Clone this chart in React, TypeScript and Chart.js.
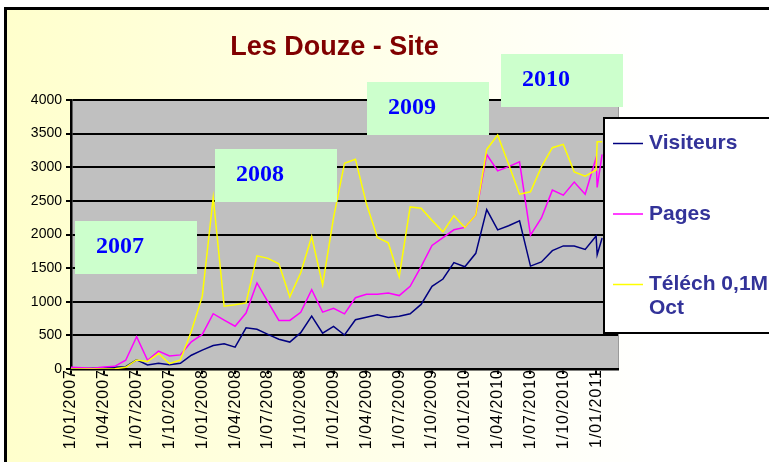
import React, { useEffect, useRef } from 'react';
import { Chart, registerables, LinearScale } from 'chart.js';

class SpacedLinearScale extends LinearScale {
  static id = 'spacedLinear';
  static defaults = LinearScale.defaults;
  drawLabels(chartArea: any) {
    const ctx: any = this.ctx;
    const prev = ctx.letterSpacing;
    ctx.letterSpacing = '1px';
    super.drawLabels(chartArea);
    ctx.letterSpacing = prev || '0px';
  }
}

Chart.register(...registerables, SpacedLinearScale);

// ---------- DATA ----------
const chartTitle = 'Les Douze - Site';
const seriesNames = ['Visiteurs', 'Pages', 'Téléch 0,1M Oct'];

const dates = [
  '2007-01-01', '2007-02-01', '2007-03-01', '2007-04-01', '2007-05-01', '2007-06-01',
  '2007-07-01', '2007-08-01', '2007-09-01', '2007-10-01', '2007-11-01', '2007-12-01',
  '2008-01-01', '2008-02-01', '2008-03-01', '2008-04-01', '2008-05-01', '2008-06-01',
  '2008-07-01', '2008-08-01', '2008-09-01', '2008-10-01', '2008-11-01', '2008-12-01',
  '2009-01-01', '2009-02-01', '2009-03-01', '2009-04-01', '2009-05-01', '2009-06-01',
  '2009-07-01', '2009-08-01', '2009-09-01', '2009-10-01', '2009-11-01', '2009-12-01',
  '2010-01-01', '2010-02-01', '2010-03-01', '2010-04-01', '2010-05-01', '2010-06-01',
  '2010-07-01', '2010-08-01', '2010-09-01', '2010-10-01', '2010-11-01', '2010-12-01',
  '2011-01-01', '2011-01-04', '2011-01-18',
];

const visiteurs = [
  0, 5, 10, 15, 25, 35, 135, 60, 85, 65, 85, 205,
  280, 350, 375, 325, 612, 590, 515, 443, 400, 540, 786, 533,
  635, 505, 732, 771, 806, 766, 784, 821, 960, 1229, 1338, 1582,
  1520, 1720, 2370, 2068, 2130, 2202, 1530, 1592, 1760, 1830, 1830, 1778,
  1977, 1700, 1947,
];

const pages = [
  25, 20, 10, 30, 40, 130, 480, 130, 265, 195, 210, 405,
  515, 822, 728, 636, 832, 1280, 997, 723, 723, 843, 1180, 845,
  903, 820, 1060, 1110, 1110, 1130, 1092, 1230, 1522, 1838, 1955, 2070,
  2105, 2290, 3190, 2945, 3010, 3080, 1990, 2245, 2660, 2585, 2780, 2600,
  3140, 2700, 3190,
];

const telech = [
  0, 0, 0, 0, 5, 25, 135, 112, 230, 80, 134, 560,
  1080, 2550, 935, 955, 982, 1683, 1645, 1565, 1072, 1432, 1970, 1251,
  2250, 3060, 3120, 2460, 1955, 1875, 1370, 2410, 2390, 2210, 2040, 2280,
  2105, 2290, 3265, 3480, 3043, 2600, 2635, 3005, 3290, 3340, 2930, 2867,
  2960, 3380, 3380,
];

const tickMonths = [0, 3, 6, 9, 12, 15, 18, 21, 24, 27, 30, 33, 36, 39, 42, 45, 48];
const tickLabels = [
  '1/01/2007', '1/04/2007', '1/07/2007', '1/10/2007',
  '1/01/2008', '1/04/2008', '1/07/2008', '1/10/2008',
  '1/01/2009', '1/04/2009', '1/07/2009', '1/10/2009',
  '1/01/2010', '1/04/2010', '1/07/2010', '1/10/2010',
  '1/01/2011',
];
const axisMinMonth = 0;
const axisMaxMonth = 50;

const yearLabels = ['2007', '2008', '2009', '2010'];

// ---------- LAYOUT / STYLE ----------
const W = 769;
const H = 462;
const SANS = "'Liberation Sans', Arial, sans-serif";
const SERIF = "'Liberation Serif', 'Times New Roman', serif";
const seriesColors = ['#000080', '#FF00FF', '#FFFF00'];
const yearBoxes = [
  { x: 75, y: 221 },
  { x: 215, y: 149 },
  { x: 367, y: 82 },
  { x: 501, y: 54 },
];

function monthIndex(d: string): number {
  const [y, m, day] = d.split('-').map(Number);
  return (y - 2007) * 12 + (m - 1) + (day - 1) / 31;
}

const decorPlugin = {
  id: 'decor',
  beforeDraw(chart: any) {
    const ctx = chart.ctx;
    const a = chart.chartArea;
    ctx.save();
    ctx.fillStyle = '#FFFFFF';
    ctx.fillRect(0, 0, W, H);
    const g = ctx.createLinearGradient(7, 0, W, 0);
    g.addColorStop(0, '#FFFFCC');
    g.addColorStop(0.85, '#FFFFFF');
    g.addColorStop(1, '#FFFFFF');
    ctx.fillStyle = g;
    ctx.fillRect(7, 10, W - 7, H - 10);
    ctx.fillStyle = '#000000';
    ctx.fillRect(4, 7, W - 4, 3);
    ctx.fillRect(4, 7, 3, H - 7);
    ctx.fillStyle = '#C0C0C0';
    ctx.fillRect(a.left, a.top, a.right - a.left, a.bottom - a.top);
    ctx.strokeStyle = '#9A9A9A';
    ctx.lineWidth = 1;
    ctx.beginPath();
    ctx.moveTo(a.right + 0.5, a.top);
    ctx.lineTo(a.right + 0.5, a.bottom);
    ctx.stroke();
    ctx.restore();
  },
  afterDraw(chart: any) {
    const ctx = chart.ctx;
    ctx.save();
    // title
    ctx.font = `bold 27px ${SANS}`;
    ctx.fillStyle = '#800000';
    ctx.textAlign = 'center';
    ctx.textBaseline = 'alphabetic';
    ctx.fillText(chartTitle, 334.5, 55);

    // year boxes
    yearLabels.forEach((t, i) => {
      const b = yearBoxes[i];
      ctx.fillStyle = '#CCFFCC';
      ctx.fillRect(b.x, b.y, 122, 53);
      ctx.font = `bold 24px ${SERIF}`;
      ctx.fillStyle = '#0000FF';
      ctx.textAlign = 'left';
      ctx.fillText(t, b.x + 21, b.y + 32);
    });

    // legend
    const lx = 604, ly = 118, lw = 180, lh = 215;
    ctx.fillStyle = '#FFFFFF';
    ctx.fillRect(lx, ly, lw, lh);
    ctx.strokeStyle = '#000000';
    ctx.lineWidth = 2;
    ctx.strokeRect(lx, ly, lw, lh);
    ctx.font = `bold 21px ${SANS}`;
    ctx.textBaseline = 'middle';
    const rowY = [143.5, 214, 284.5];
    chart.data.datasets.forEach((ds: any, i: number) => {
      const y = rowY[i];
      ctx.strokeStyle = ds.borderColor;
      ctx.lineWidth = 1.5;
      ctx.beginPath();
      ctx.moveTo(613, y);
      ctx.lineTo(643, y);
      ctx.stroke();
      ctx.fillStyle = '#333399';
      const words = String(ds.label).split(' ');
      const lines: string[] = [];
      let cur = '';
      words.forEach((w) => {
        const test = cur ? cur + ' ' + w : w;
        if (cur && ctx.measureText(test).width > 125) {
          lines.push(cur);
          cur = w;
        } else cur = test;
      });
      if (cur) lines.push(cur);
      lines.forEach((ln, k) => ctx.fillText(ln, 649, y + k * 24));
    });
    ctx.restore();
  },
};

export default function App() {
  const ref = useRef<HTMLCanvasElement | null>(null);
  useEffect(() => {
    if (!ref.current) return;
    const xs = dates.map(monthIndex);
    const mk = (vals: number[]) => vals.map((v, i) => ({ x: xs[i], y: v }));
    const chart = new Chart(ref.current, {
      type: 'line',
      data: {
        datasets: [
          { label: seriesNames[0], data: mk(visiteurs), borderColor: seriesColors[0], order: 2 },
          { label: seriesNames[1], data: mk(pages), borderColor: seriesColors[1], order: 1 },
          { label: seriesNames[2], data: mk(telech), borderColor: seriesColors[2], order: 0 },
        ] as any,
      },
      options: {
        responsive: false,
        animation: false,
        devicePixelRatio: 1,
        layout: { padding: { top: 100, right: 151, left: 0, bottom: 0 } },
        elements: {
          line: { tension: 0, borderWidth: 1.5, fill: false },
          point: { radius: 0, hoverRadius: 0 },
        },
        plugins: {
          legend: { display: false },
          title: { display: false },
          tooltip: { enabled: false },
        },
        scales: {
          x: {
            type: 'spacedLinear' as any,
            min: axisMinMonth,
            max: axisMaxMonth,
            afterFit: (s: any) => { s.height = 93; },
            afterBuildTicks: (s: any) => { s.ticks = tickMonths.map((v) => ({ value: v })); },
            ticks: {
              autoSkip: false,
              minRotation: 90,
              maxRotation: 90,
              padding: -5,
              color: '#000000',
              font: { family: SANS, size: 16 },
              callback: (v: any) => tickLabels[tickMonths.indexOf(Number(v))] ?? '',
            },
            grid: { drawOnChartArea: false, drawTicks: true, tickLength: 5, color: '#000000', lineWidth: 2 },
            border: { color: '#000000', width: 2.5 },
          } as any,
          y: {
            min: 0,
            max: 4000,
            afterFit: (s: any) => { s.width = 71; },
            ticks: {
              stepSize: 500,
              padding: 4,
              color: '#000000',
              font: { family: SANS, size: 14 },
              callback: (v: any) => String(v),
            },
            grid: { color: '#000000', lineWidth: 2, tickLength: 5 },
            border: { color: '#000000', width: 2.5 },
          },
        },
      },
      plugins: [decorPlugin],
    });
    return () => chart.destroy();
  }, []);
  return (
    <div style={{ position: 'absolute', left: 0, top: 0, width: W, height: H }}>
      <canvas ref={ref} width={W} height={H} style={{ width: W, height: H, display: 'block' }} />
    </div>
  );
}
